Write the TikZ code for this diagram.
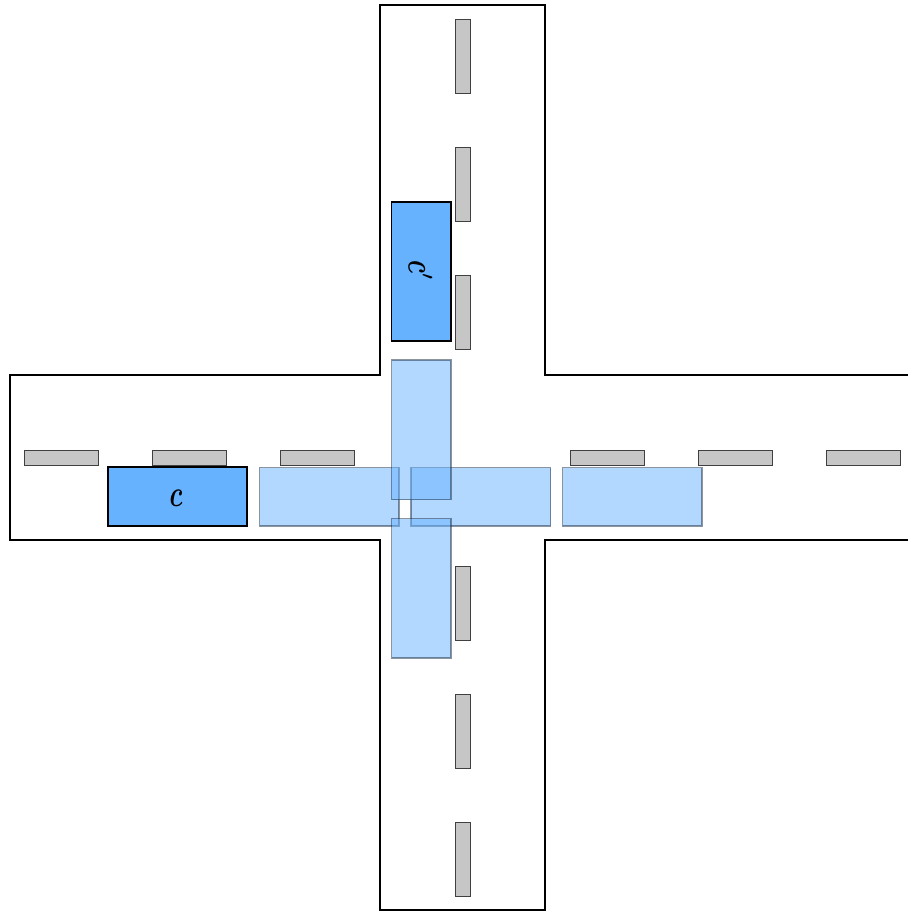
\documentclass[tikz,border=0pt]{standalone}
\usepackage{fontspec}
\usepackage{graphicx}
\definecolor{carblue}{HTML}{66B2FF}
\definecolor{dashgrey}{HTML}{C6C6C6}
\tikzset{
  road/.style={draw=black,line width=1.5pt,line join=miter},
  lanedash/.style={draw=black!75,fill=dashgrey,line width=1pt},
  car/.style={draw=black,fill=carblue,line width=1.3pt},
  ghost/.style={draw=black!75!carblue,fill=carblue,fill opacity=0.5,draw opacity=0.5,line width=1.5pt},
  carlabel/.style={inner sep=0pt}
}
\begin{document}
\begin{tikzpicture}[x=1pt,y=-1pt]
\useasboundingbox (0,0) rectangle (908,911);
\fill[white] (0,0) rectangle (908,911);
\draw[road] (909,375) -- (545,375) -- (545,5) -- (380,5) -- (380,375) -- (10,375) -- (10,540) -- (380,540) -- (380,910) -- (545,910) -- (545,540) -- (909,540);
\foreach \a in {24,152,280,570,698,826}
  \draw[lanedash] (\a,450.5) rectangle ++(74.5,14.5);
\foreach \a in {19,147,275,566,694,822}
  \draw[lanedash] (455.5,\a) rectangle ++(14.5,74.5);
\draw[car] (108,467) rectangle (247,526);
\node[carlabel] (c) at (176,498) {\scalebox{2.5}[3.7]{\boldmath$c$}};
\draw[car] (391.5,202) rectangle (451,341);
\node[carlabel,rotate=-90] (cp) at (420.5,271) {\scalebox{2.5}[3.7]{\boldmath$c^{\scriptscriptstyle\prime}$}};
\draw[ghost] (259.5,467.5) rectangle (399,526);
\draw[ghost] (411,467.5) rectangle (550.5,526);
\draw[ghost] (562.5,467.5) rectangle (702,526);
\draw[ghost] (391.5,360) rectangle (451,499.5);
\draw[ghost] (391.5,518.5) rectangle (451,658);
\end{tikzpicture}
\end{document}
